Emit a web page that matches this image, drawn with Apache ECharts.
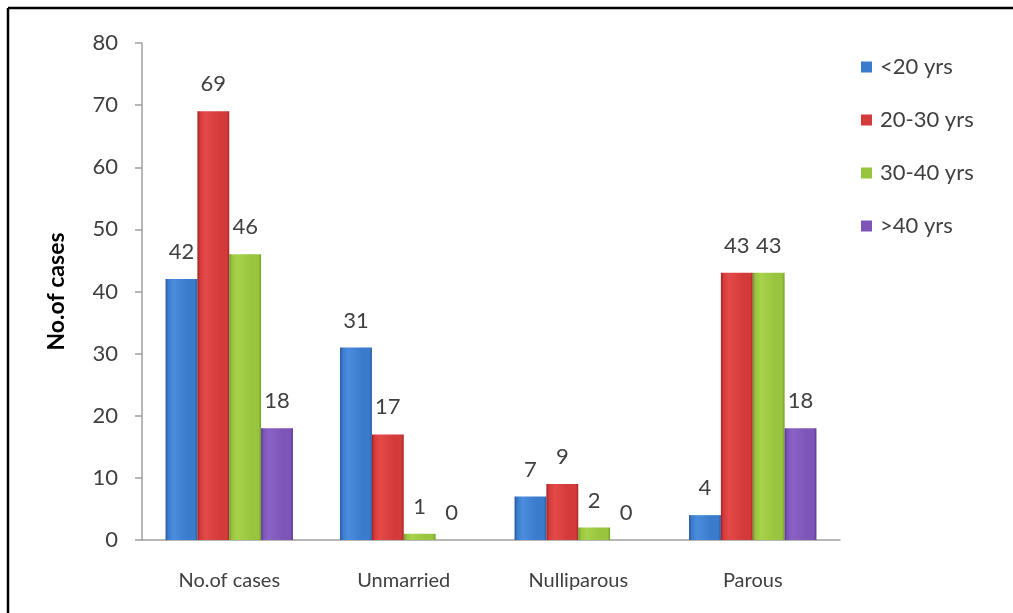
<!DOCTYPE html>
<html>
<head>
<meta charset="utf-8">
<script src="https://cdn.jsdelivr.net/npm/echarts@6/dist/echarts.min.js"></script>
<style>
  html, body { margin: 0; padding: 0; background: #fff; }
  #chart { width: 1013px; height: 613px; }
</style>
</head>
<body>
<div id="chart"></div>
<script>
// Case counts by group and age band
const categories = ['No.of cases', 'Unmarried', 'Nulliparous', 'Parous'];
const seriesNames = ['<20 yrs', '20-30 yrs', '30-40 yrs', '>40 yrs'];
const under20 = [42, 31, 7, 4];
const age20to30 = [69, 17, 9, 43];
const age30to40 = [46, 1, 2, 43];
const over40 = [18, 0, 0, 18];
const yTicks = [0, 10, 20, 30, 40, 50, 60, 70, 80];

const values = [under20, age20to30, age30to40, over40];

// Shaded fills: darker edges, lighter centre for a rounded column look
const palettes = [
  ['#24549a', '#4a8ddd', '#3b7bcc', '#285ca3'],
  ['#9c2126', '#e24a48', '#d43a3a', '#a8262a'],
  ['#6a952a', '#a8d24c', '#98c43e', '#72a02d'],
  ['#55358a', '#8a62c4', '#7d55b8', '#5a3a92']
];
const legendColors = ['#3b7bcc', '#d43a3a', '#98c43e', '#7d55b8'];

function barFill(p) {
  return new echarts.graphic.LinearGradient(0, 0, 1, 0, [
    { offset: 0, color: p[0] },
    { offset: 0.08, color: p[2] },
    { offset: 0.25, color: p[1] },
    { offset: 0.7, color: p[2] },
    { offset: 0.92, color: p[2] },
    { offset: 1, color: p[3] }
  ]);
}

const FONT = 'Lato, "Open Sans", sans-serif';

const chart = echarts.init(document.getElementById('chart'), null, { renderer: 'canvas' });

chart.setOption({
  animation: false,
  backgroundColor: '#ffffff',
  textStyle: { fontFamily: FONT },
  graphic: [
    { type: 'line', shape: { x1: 8, y1: 8, x2: 1013, y2: 8 }, style: { stroke: '#000', lineWidth: 2.5 } },
    { type: 'line', shape: { x1: 8, y1: 8, x2: 8, y2: 613 }, style: { stroke: '#000', lineWidth: 2.5 } }
  ],
  grid: { left: 142, right: 173, top: 43, bottom: 73 },
  legend: {
    orient: 'vertical',
    left: 856,
    top: 51,
    itemWidth: 11,
    itemHeight: 11,
    itemGap: 31,
    icon: 'rect',
    data: seriesNames.map((n, i) => ({ name: n, itemStyle: { color: legendColors[i] } })),
    textStyle: { fontFamily: FONT, fontSize: 22, color: '#404040', padding: [0, 0, 0, 3] }
  },
  xAxis: {
    type: 'category',
    data: categories,
    axisLine: { lineStyle: { color: '#a0a0a0', width: 1.5 } },
    axisTick: { show: false },
    axisLabel: { fontFamily: FONT, fontSize: 20, color: '#404040', margin: 31 }
  },
  yAxis: {
    type: 'value',
    min: yTicks[0],
    max: yTicks[yTicks.length - 1],
    interval: 10,
    name: 'No.of cases',
    nameLocation: 'middle',
    nameGap: 74,
    nameTextStyle: { fontFamily: FONT, fontSize: 23, fontWeight: 'bold', color: '#000' },
    axisLine: { show: true, lineStyle: { color: '#a0a0a0', width: 1.5 } },
    axisTick: { show: true, length: 7, lineStyle: { color: '#a0a0a0', width: 1.5 } },
    splitLine: { show: false },
    axisLabel: { fontFamily: FONT, fontSize: 22, color: '#404040', margin: 24 }
  },
  series: seriesNames.map((name, i) => ({
    name: name,
    type: 'bar',
    data: values[i],
    barGap: '0%',
    barCategoryGap: '27%',
    itemStyle: { color: barFill(palettes[i]) },
    label: {
      show: true,
      position: 'top',
      distance: 16,
      fontFamily: FONT,
      fontSize: 22,
      color: '#404040'
    }
  }))
});
</script>
</body>
</html>
